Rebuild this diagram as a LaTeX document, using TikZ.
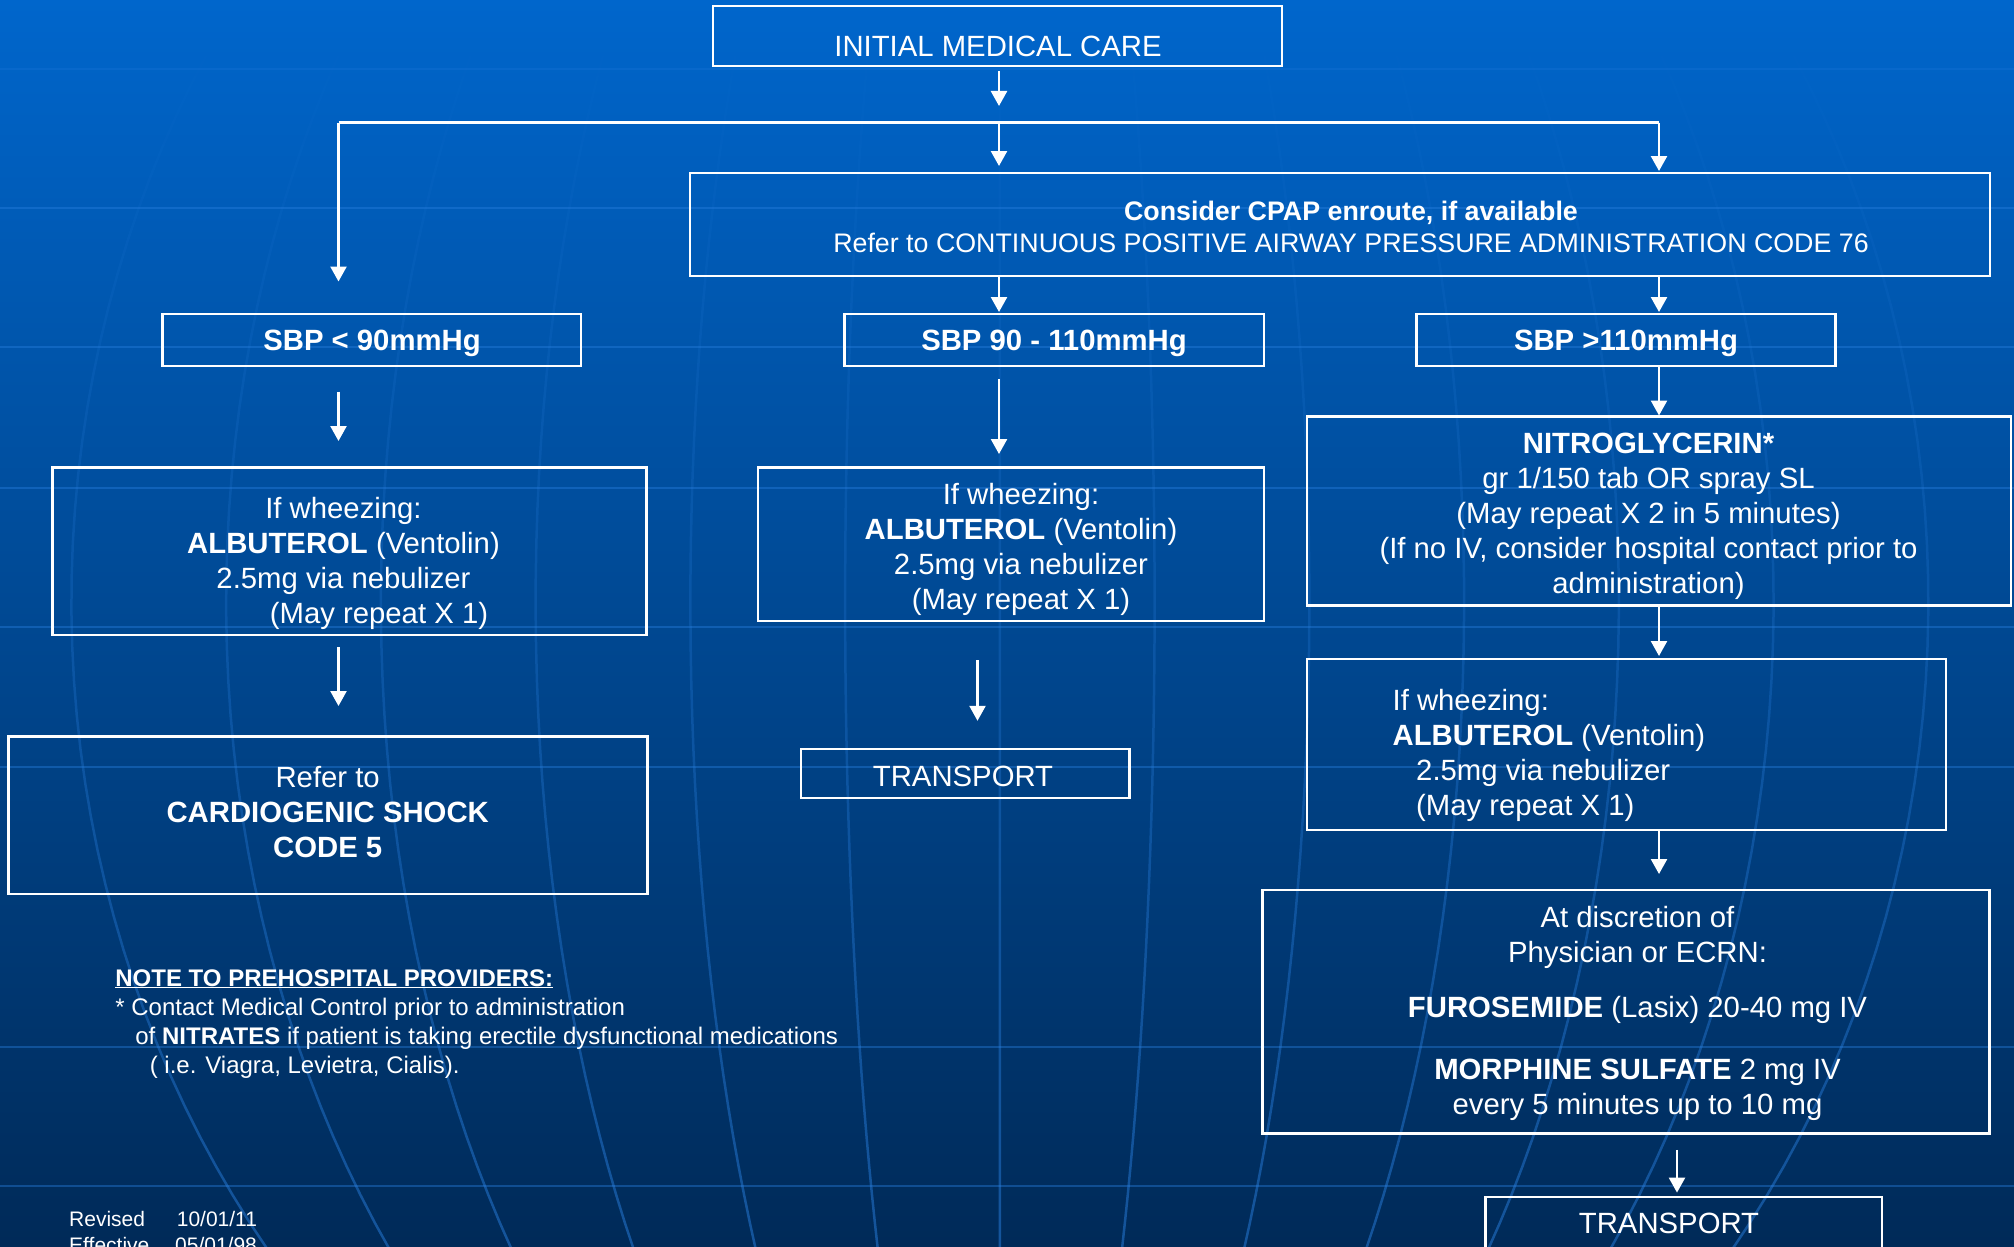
\documentclass[tikz,border=0pt]{standalone}
\usepackage{fontspec}
\setmainfont{Liberation Sans}
\usetikzlibrary{arrows.meta, fadings}

\definecolor{bgtop}{HTML}{0066CC}
\definecolor{bgmid}{HTML}{004C9C}
\definecolor{bgbot}{HTML}{002A58}
\definecolor{gridblue}{HTML}{2A80E0}

% the globe grid fades out towards the top of the sheet
\tikzfading[name=gridfade, top color=transparent!100, bottom color=transparent!50]

\tikzset{
  box/.style={draw=white, line width=2.7pt, inner sep=0pt, outer sep=0pt},
  txt/.style={text=white, inner sep=0pt, align=center, font=\fontsize{29.3}{35}\selectfont},
  arr/.style={draw=white, line width=2.4pt, -{Triangle[length=15pt,width=16pt]}},
  conn/.style={draw=white, line width=2.4pt},
  gridline/.style={draw=gridblue, line width=2.6pt, opacity=0.4},
  meridian/.style={draw=gridblue, line width=2.5pt},
}

\begin{document}
\begin{tikzpicture}[x=1pt, y=-1pt]
\useasboundingbox (0,0) rectangle (2014,1247);
\clip (0,0) rectangle (2014,1247);

% background
\fill[top color=bgtop, middle color=bgmid, bottom color=bgbot] (0,0) rectangle (2014,1247);

% latitude lines
\foreach \yy in {208,347,488,627,767,1047,1186}
  \draw[gridline] (0,\yy) -- (2014,\yy);
\draw[gridline, opacity=0.2] (0,69) -- (2014,69);

% meridians
\draw[meridian, path fading=gridfade]
  (1003,0) -- (1003,1247)
  \foreach \i in {1,...,6}{
    plot[domain=-35:38, samples=40, variable=\t] ({1003-155*\i*cos(\t)}, {600+1055*sin(\t)})
    plot[domain=-35:38, samples=40, variable=\t] ({1003+155*\i*cos(\t)}, {600+1055*sin(\t)})
  };

% boxes
\node[box, minimum width=569pt,   minimum height=60pt]    (init)   at (997.5,36)     {};
\node[box, minimum width=1300pt,  minimum height=103pt]   (cpap)   at (1340,224.5)   {};
\node[box, minimum width=418.5pt, minimum height=52pt]    (sbp1)   at (371.8,340)    {};
\node[box, minimum width=419.4pt, minimum height=52pt]    (sbp2)   at (1054.3,340)   {};
\node[box, minimum width=419pt,   minimum height=52pt]    (sbp3)   at (1626,340)     {};
\node[box, minimum width=594pt,   minimum height=167.6pt] (alb1)   at (349.75,551.2) {};
\node[box, minimum width=506pt,   minimum height=153.6pt] (alb2)   at (1011,544.2)   {};
\node[box, minimum width=704pt,   minimum height=189pt]   (nitro)  at (1659,511)     {};
\node[box, minimum width=639pt,   minimum height=171pt]   (alb3)   at (1626.5,744.5) {};
\node[box, minimum width=639pt,   minimum height=157.6pt] (card)   at (327.9,815.2)  {};
\node[box, minimum width=328.7pt, minimum height=49pt]    (trans1) at (965.4,773.5)  {};
\node[box, minimum width=727pt,   minimum height=243.8pt] (disc)   at (1626.2,1011.9){};
\node[box, minimum width=396.3pt, minimum height=65pt]    (trans2) at (1683.7,1229.5){};

% texts (multi-line texts are anchored at the baseline of their last line)
\node[txt, anchor=base] (tInit) at (998,57) {INITIAL MEDICAL CARE};
\node[txt, anchor=base, font=\fontsize{26.8}{32}\selectfont] (tCpap) at (1351,252.4)
  {\textbf{Consider CPAP enroute, if available}\\
   Refer to CONTINUOUS POSITIVE AIRWAY PRESSURE ADMINISTRATION CODE 76};
\node[txt, anchor=base] (tS1) at (372,350)  {\textbf{SBP < 90mmHg}};
\node[txt, anchor=base] (tS2) at (1054,350) {\textbf{SBP 90 - 110mmHg}};
\node[txt, anchor=base] (tS3) at (1626,350) {\textbf{SBP >110mmHg}};
\node[txt, anchor=base] (tA1) at (343.5,623)
  {If wheezing:\\ \textbf{ALBUTEROL} (Ventolin)\\ 2.5mg via nebulizer\\
   \hspace*{71pt}(May repeat X 1)};
\node[txt, anchor=base] (tA2) at (1021,609)
  {If wheezing:\\ \textbf{ALBUTEROL} (Ventolin)\\ 2.5mg via nebulizer\\ (May repeat X 1)};
\node[txt, anchor=base] (tN) at (1648.5,593)
  {\textbf{NITROGLYCERIN*}\\ gr 1/150 tab OR spray SL\\ (May repeat X 2 in 5 minutes)\\
   (If no IV, consider hospital contact prior to\\ administration)};
\node[txt, align=left, anchor=base west] (tA3) at (1392.4,815)
  {If wheezing:\\ \textbf{ALBUTEROL} (Ventolin)\\ \hspace*{23.6pt}2.5mg via nebulizer\\
   \hspace*{23.6pt}(May repeat X 1)};
\node[txt, anchor=base] (tC) at (327.7,857.5)
  {Refer to\\ \textbf{CARDIOGENIC SHOCK}\\ \textbf{CODE 5}};
\node[txt, anchor=base] (tT1) at (963,786) {TRANSPORT};
\node[txt, anchor=base] (tD) at (1637.5,1114)
  {At discretion of\\ Physician or ECRN:\\[20.8pt]
   \textbf{FUROSEMIDE} (Lasix) 20-40 mg IV\\[26.2pt]
   \textbf{MORPHINE SULFATE} 2 mg IV\\ every 5 minutes up to 10 mg};
\node[txt, anchor=base] (tT2) at (1669,1233.8) {TRANSPORT};

\node[txt, align=left, anchor=base west, font=\fontsize{24}{29}\selectfont] (tNote) at (115.2,1073)
  {\textbf{\underline{NOTE TO PREHOSPITAL PROVIDERS:}}\\
   * Contact Medical Control prior to administration\\
   \hspace*{20pt}of \textbf{NITRATES} if patient is taking erectile dysfunctional medications\\
   \hspace*{34.4pt}( i.e. Viagra, Levietra, Cialis).};
\node[txt, align=left, anchor=base west, font=\fontsize{21}{25.3}\selectfont] (tRev) at (69,1252)
  {\makebox[107.7pt][l]{Revised}10/01/11\\ \makebox[106pt][l]{Effective}05/01/98};

% connector columns
\coordinate (colL)  at (338.5,0);
\coordinate (colM)  at (999,0);
\coordinate (colM2) at (977.5,0);
\coordinate (colR)  at (1659,0);
\coordinate (colD)  at (1677,0);
\coordinate (barL)  at (338.5,122.6);
\coordinate (barR)  at (1659,122.6);

% connectors
\draw[arr, shorten <=5pt, shorten >=16.6pt] (init.south -| colM) -- (barL -| colM);
\draw[conn] (barL) -- (barR);
\draw[arr, shorten >=32.5pt] (barL) -- (sbp1.north -| colL);
\draw[arr, shorten >=7pt] (barL -| colM) -- (cpap.north -| colM);
\draw[arr, shorten >=2pt] (barR) -- (cpap.north -| colR);
\draw[arr, shorten >=2pt] (cpap.south -| colM) -- (sbp2.north -| colM);
\draw[arr, shorten >=2pt] (cpap.south -| colR) -- (sbp3.north -| colR);
\draw[arr, shorten <=25.5pt, shorten >=26.4pt] (sbp1.south -| colL) -- (alb1.north -| colL);
\draw[arr, shorten <=12.8pt, shorten >=13.4pt] (sbp2.south -| colM) -- (alb2.north -| colM);
\draw[arr, shorten >=1pt] (sbp3.south -| colR) -- (nitro.north -| colR);
\draw[arr, shorten <=12pt, shorten >=30.4pt] (alb1.south -| colL) -- (card.north -| colL);
\draw[arr, shorten <=39pt, shorten >=28.2pt] (alb2.south -| colM2) -- (trans1.north -| colM2);
\draw[arr, shorten >=3pt] (nitro.south -| colR) -- (alb3.north -| colR);
\draw[arr, shorten >=16pt] (alb3.south -| colR) -- (disc.north -| colR);
\draw[arr, shorten <=16pt, shorten >=4.4pt] (disc.south -| colD) -- (trans2.north -| colD);
\end{tikzpicture}
\end{document}
